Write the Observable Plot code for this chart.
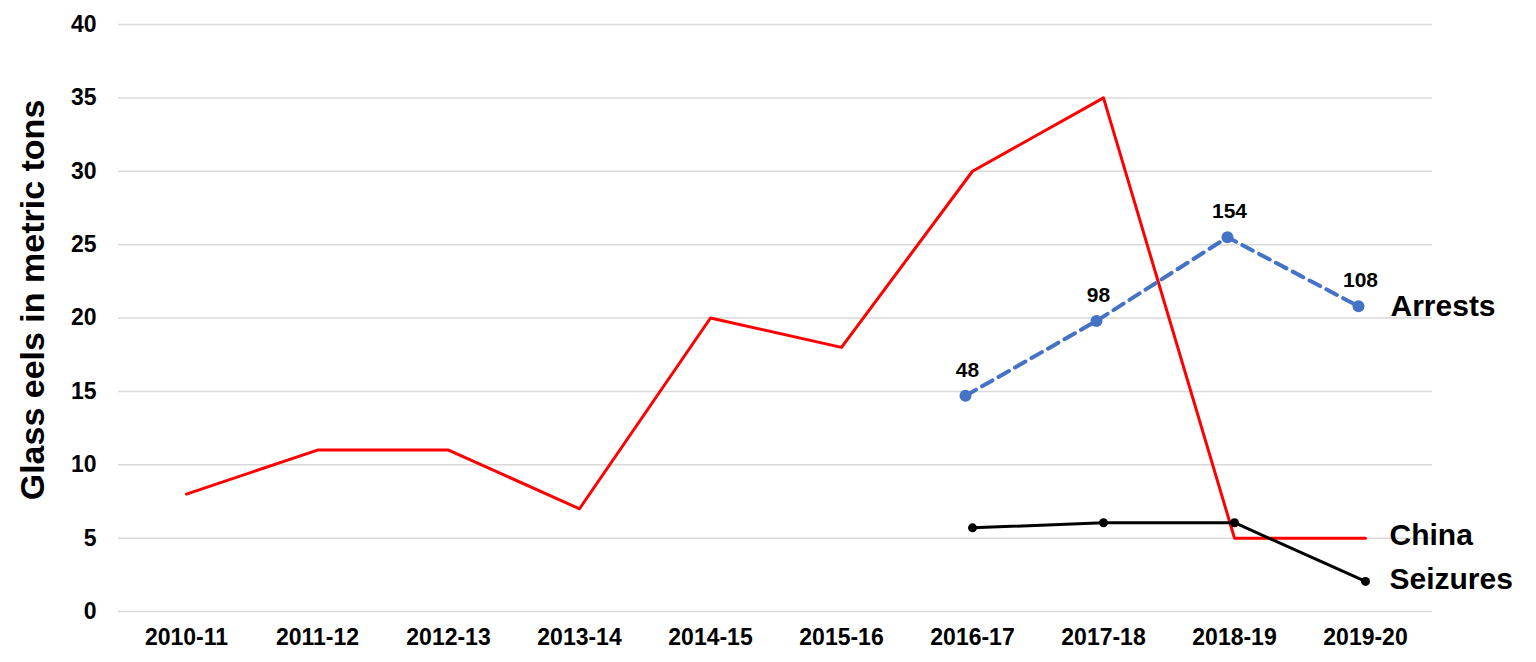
<!DOCTYPE html>
<html>
<head>
<meta charset="utf-8">
<script src="https://cdn.jsdelivr.net/npm/d3@7"></script>
<script src="https://cdn.jsdelivr.net/npm/@observablehq/plot@0.6"></script>
<style>
  html, body { margin: 0; padding: 0; background: #fff; }
  #chart svg { display: block; }
</style>
</head>
<body>
<div id="chart"></div>
<script>
const seasons = ["2010-11","2011-12","2012-13","2013-14","2014-15","2015-16","2016-17","2017-18","2018-19","2019-20"];
const china = [8, 11, 11, 7, 20, 18, 30, 35, 5, 5];
const arrestSeasons = ["2016-17","2017-18","2018-19","2019-20"];
const arrestsY = [14.7, 19.8, 25.5, 20.8];
const arrestLabels = ["48", "98", "154", "108"];
const seizureSeasons = ["2016-17","2017-18","2018-19","2019-20"];
const seizuresY = [5.7, 6.05, 6.05, 2.05];
const yTicks = [0, 5, 10, 15, 20, 25, 30, 35, 40];
const yTitle = "Glass eels in metric tons";

const chinaData = seasons.map((s, i) => ({season: s, value: china[i]}));
const arrestData = arrestSeasons.map((s, i) => ({season: s, value: arrestsY[i], label: arrestLabels[i]}));
const seizureData = seizureSeasons.map((s, i) => ({season: s, value: seizuresY[i]}));
const last = a => [a[a.length - 1]];
const sans = "Liberation Sans, Arial, sans-serif";

const chart = Plot.plot({
  width: 1536,
  height: 662,
  marginLeft: 118,
  marginRight: 104,
  marginTop: 24,
  marginBottom: 51,
  style: {fontFamily: sans, background: "#fff", color: "#000"},
  x: {type: "point", domain: seasons, padding: 0.5},
  y: {domain: [0, 40]},
  marks: [
    Plot.gridY(yTicks, {stroke: "#d9d9d9", strokeOpacity: 1, strokeWidth: 1.5}),
    Plot.axisY(yTicks, {tickSize: 0, tickPadding: 22, fontSize: 23, fontWeight: "bold", label: null}),
    Plot.axisX({tickSize: 0, tickPadding: 17, fontSize: 23, fontWeight: "bold", label: null}),
    Plot.line(chinaData, {x: "season", y: "value", stroke: "#ff0000", strokeWidth: 3}),
    Plot.line(arrestData, {x: "season", y: "value", stroke: "#4472c4", strokeWidth: 4, strokeDasharray: "12,7", dx: -7}),
    Plot.dot(arrestData, {x: "season", y: "value", fill: "#4472c4", r: 6, dx: -7}),
    Plot.text(arrestData, {x: "season", y: "value", text: "label", dy: -26, dx: -5, fontSize: 21, fontWeight: "bold",
      fontFamily: "Liberation Sans Narrow, Liberation Sans, sans-serif"}),
    Plot.line(seizureData, {x: "season", y: "value", stroke: "#000", strokeWidth: 3}),
    Plot.dot(seizureData, {x: "season", y: "value", fill: "#000", r: 4.5}),
    Plot.text(last(arrestData), {x: "season", y: "value", text: () => "Arrests", dx: 25, textAnchor: "start", fontSize: 30, fontWeight: "bold"}),
    Plot.text(last(chinaData), {x: "season", y: "value", text: () => "China", dx: 24, dy: -3, textAnchor: "start", fontSize: 30, fontWeight: "bold"}),
    Plot.text(last(seizureData), {x: "season", y: "value", text: () => "Seizures", dx: 24, dy: -2, textAnchor: "start", fontSize: 30, fontWeight: "bold"})
  ]
});
d3.select(chart).append("text")
  .attr("transform", "translate(44,300) rotate(-90)")
  .attr("text-anchor", "middle")
  .attr("font-size", 34)
  .attr("font-weight", "bold")
  .attr("font-family", sans)
  .attr("fill", "#000")
  .text(yTitle);
document.getElementById("chart").appendChild(chart);
</script>
</body>
</html>
